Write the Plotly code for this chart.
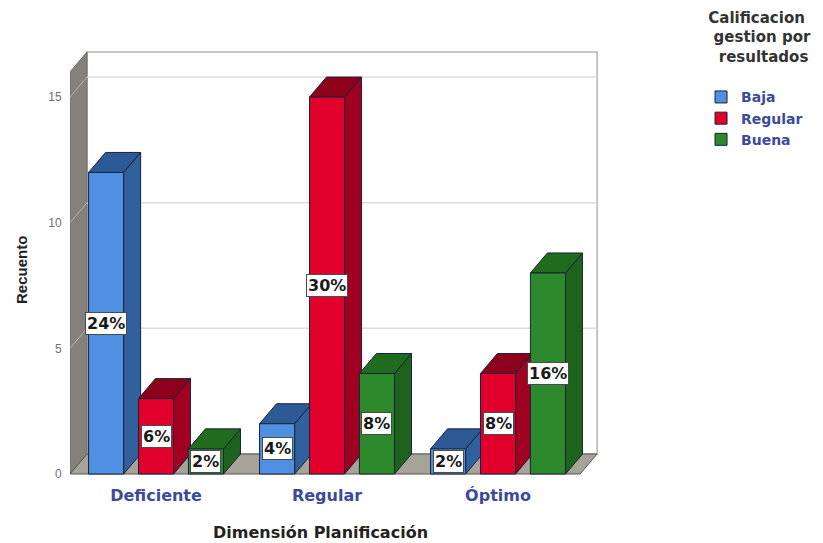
import plotly.graph_objects as go

# ---- data -------------------------------------------------------------
categories = ["Deficiente", "Regular", "Óptimo"]
series_names = ["Baja", "Regular", "Buena"]
baja = [12, 2, 1]
regular = [3, 15, 4]
buena = [1, 4, 8]
y_ticks = [0, 5, 10, 15]

series_values = [baja, regular, buena]
total = sum(sum(s) for s in series_values)

# ---- styling ----------------------------------------------------------
FRONT = ["#4f90e2", "#e0002b", "#2c8a2c"]
SIDE = ["#30609d", "#a00021", "#1d631d"]
TOP = ["#2d5a94", "#8c001c", "#1f6c1f"]
EDGE = "#1c2238"
FONT = "DejaVu Sans, Verdana, sans-serif"
FONT_NARROW = "Liberation Sans, Arial, sans-serif"
BLUE_TXT = "#3b4a9c"

BAR_W = 0.205          # bar width in category units
BAR_STEP = 0.292       # distance between bars inside a group
DX = 0.0994            # depth offset, x (category units)
DY = 0.796             # depth offset, y (count units)
X_LEFT, X_RIGHT = -0.503, 2.48
BOX_TOP = 16.0

fig = go.Figure()


def poly(xs, ys, fill, line_color, width=1.0):
    fig.add_trace(go.Scatter(
        x=list(xs) + [xs[0]], y=list(ys) + [ys[0]],
        mode="lines", fill="toself", fillcolor=fill,
        line=dict(color=line_color, width=width),
        hoverinfo="skip", showlegend=False,
    ))


# back wall, left wall and floor of the 3D frame
poly([X_LEFT + DX, X_RIGHT + DX, X_RIGHT + DX, X_LEFT + DX],
     [DY, DY, BOX_TOP + DY, BOX_TOP + DY], "#ffffff", "#b4b4b4", 1.5)
poly([X_LEFT, X_LEFT + DX, X_LEFT + DX, X_LEFT],
     [0, DY, BOX_TOP + DY, BOX_TOP], "#84817c", "#6e6b66", 1)
poly([X_LEFT, X_RIGHT, X_RIGHT + DX, X_LEFT + DX],
     [0, 0, DY, DY], "#a6a399", "#55534e", 1)

# grid lines on the back and left walls
for v in y_ticks[1:]:
    fig.add_trace(go.Scatter(
        x=[X_LEFT + DX, X_RIGHT + DX], y=[v + DY, v + DY], mode="lines",
        line=dict(color="#dcdcdc", width=1.5), hoverinfo="skip", showlegend=False))
    fig.add_trace(go.Scatter(
        x=[X_LEFT, X_LEFT + DX], y=[v, v + DY], mode="lines",
        line=dict(color="#b8b6b2", width=1), hoverinfo="skip", showlegend=False))

# bars drawn left to right: side, top, then front face
bars = []
for gi in range(len(categories)):
    for si, vals in enumerate(series_values):
        cx = gi + (si - 1) * BAR_STEP
        bars.append((cx, vals[gi], si))
bars.sort(key=lambda b: b[0])

for cx, v, si in bars:
    x0, x1 = cx - BAR_W / 2, cx + BAR_W / 2
    poly([x1, x1 + DX, x1 + DX, x1], [0, DY, v + DY, v], SIDE[si], EDGE)
    poly([x0, x1, x1 + DX, x0 + DX], [v, v, v + DY, v + DY], TOP[si], EDGE)
    poly([x0, x1, x1, x0], [0, 0, v, v], FRONT[si], EDGE)
    fig.add_annotation(
        x=cx, y=v / 2, text=f"{round(v / total * 100)}%", showarrow=False,
        font=dict(family=FONT, size=16, color="#1a1a1a", weight="bold"),
        bgcolor="#ffffff", bordercolor="#4a4a4a", borderwidth=1, borderpad=1,
    )

# legend entries
for si, name in enumerate(series_names):
    fig.add_trace(go.Bar(
        x=[None], y=[None], name=name,
        marker=dict(color=FRONT[si], line=dict(color=EDGE, width=1)),
    ))

fig.update_layout(
    width=823, height=543,
    margin=dict(l=70, r=223, t=50, b=65, autoexpand=False),
    paper_bgcolor="#ffffff", plot_bgcolor="#ffffff",
    font=dict(family=FONT),
    showlegend=True,
    legend=dict(
        x=1.1906, y=1.109, xanchor="left", yanchor="top",
        title=dict(text="&nbsp;Calificacion<br>&nbsp;&nbsp;gestion por<br>"
                        "&nbsp;&nbsp;&nbsp;resultados<br>&nbsp;",
                   side="top center",
                   font=dict(family=FONT, size=15, color="#333333", weight="bold")),
        font=dict(family=FONT, size=14, color=BLUE_TXT, weight="bold"),
        tracegroupgap=0, itemclick=False,
    ),
    xaxis=dict(
        range=[X_LEFT, X_LEFT + 530 / 171], tickvals=list(range(len(categories))),
        ticktext=categories, showgrid=False, zeroline=False, showline=False,
        ticks="outside", ticklen=3, tickcolor="rgba(0,0,0,0)",
        tickfont=dict(family=FONT, size=16, color=BLUE_TXT, weight="bold"),
        fixedrange=True,
    ),
    yaxis=dict(
        range=[-4 / 25.13, -4 / 25.13 + 428 / 25.13], tickvals=y_ticks,
        showgrid=False, zeroline=False, showline=False,
        ticks="outside", ticklen=5, tickcolor="rgba(0,0,0,0)",
        tickfont=dict(family=FONT_NARROW, size=12, color="#707070"),
        fixedrange=True,
    ),
)

# axis titles
fig.add_annotation(
    x=-0.0906, y=0.486, xref="paper", yref="paper", text="Recuento", textangle=-90,
    showarrow=False, xanchor="center", yanchor="middle",
    font=dict(family=FONT_NARROW, size=15, color="#222222", weight="bold"))
fig.add_annotation(
    x=0.96, y=-0.1285, xref="x", yref="paper", text="Dimensión Planificación",
    showarrow=False, xanchor="center", yanchor="middle",
    font=dict(family=FONT, size=16, color="#222222", weight="bold"))

fig.write_html("out.html")
